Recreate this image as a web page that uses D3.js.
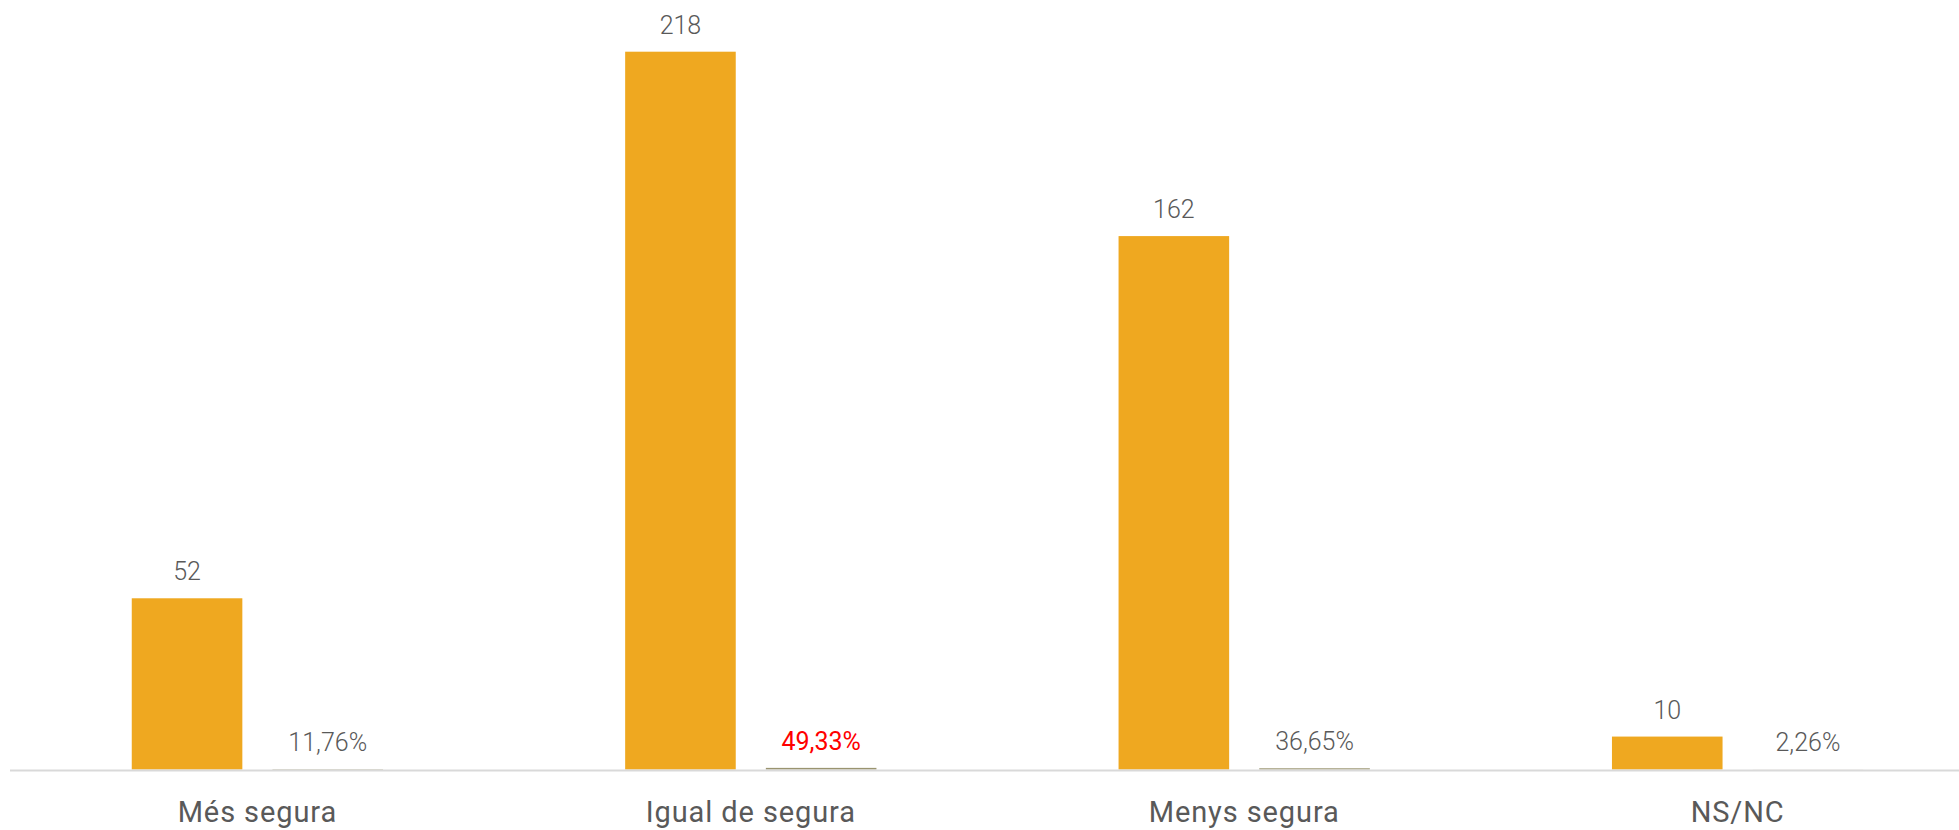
<!DOCTYPE html>
<html>
<head>
<meta charset="utf-8">
<script src="https://cdn.jsdelivr.net/npm/d3@7"></script>
<style>
  html, body { margin: 0; padding: 0; background: #fff; }
  svg { display: block; font-family: Roboto, "Noto Sans", sans-serif; }
</style>
</head>
<body>
<svg id="chart" width="1959" height="830"></svg>
<script>
const categories = ["Més segura", "Igual de segura", "Menys segura", "NS/NC"];
const counts = [52, 218, 162, 10];
const shares = [0.1176, 0.4933, 0.3665, 0.0226];
const shareLabels = ["11,76%", "49,33%", "36,65%", "2,26%"];
const highlightIndex = 1;
const seriesKeys = ["count", "share"];

const svg = d3.select("#chart");
const baseY = 769.5;

const x0 = d3.scaleBand()
  .domain(categories)
  .range([10.7, 1984.3])
  .paddingInner(0.4907)
  .paddingOuter(0.4907 / 2);

const x1 = d3.scaleBand()
  .domain(seriesKeys)
  .range([0, x0.bandwidth()])
  .paddingInner(0.214);

const y = d3.scaleLinear()
  .domain([0, 218])
  .range([baseY, 51.7]);

const data = categories.map((c, i) => ({
  cat: c,
  values: [
    { key: "count", v: counts[i], label: String(counts[i]) },
    { key: "share", v: shares[i], label: shareLabels[i], hl: i === highlightIndex }
  ]
}));

const groups = svg.append("g").selectAll("g")
  .data(data).join("g")
  .attr("transform", d => `translate(${x0(d.cat)},0)`);

groups.selectAll("rect")
  .data(d => d.values).join("rect")
  .attr("x", d => x1(d.key))
  .attr("width", x1.bandwidth())
  .attr("y", d => y(d.v))
  .attr("height", d => baseY - y(d.v))
  .attr("fill", d => d.key === "count" ? "#efa820" : "#9a9470");

groups.selectAll("text")
  .data(d => d.values).join("text")
  .attr("x", d => x1(d.key) + x1.bandwidth() / 2)
  .attr("y", d => y(d.v) - 18)
  .attr("text-anchor", "middle")
  .attr("font-size", 25)
  .attr("font-weight", d => d.hl ? 400 : 300)
  .attr("fill", d => d.hl ? "#ff0000" : "#595959")
  .text(d => d.label);

// baseline
svg.append("line")
  .attr("x1", 10).attr("x2", 1959)
  .attr("y1", baseY + 1).attr("y2", baseY + 1)
  .attr("stroke", "#d9d9d9").attr("stroke-width", 2);

// category axis
const axis = d3.axisBottom(x0).tickSize(0).tickPadding(0);
const ag = svg.append("g").attr("transform", `translate(0,${baseY})`).call(axis);
ag.select(".domain").remove();
ag.selectAll("text")
  .attr("dy", null)
  .attr("y", 52.8)
  .attr("font-size", 29)
  .attr("letter-spacing", "0.9px")
  .attr("font-family", "Roboto, 'Noto Sans', sans-serif")
  .attr("fill", "#595959");
</script>
</body>
</html>
